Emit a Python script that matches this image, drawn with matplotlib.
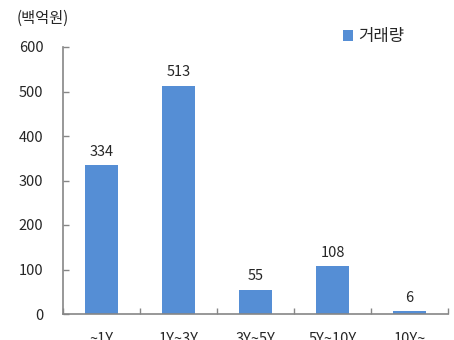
import matplotlib
matplotlib.use("Agg")
import matplotlib.pyplot as plt

plt.rcParams['font.family'] = ['Noto Sans CJK KR', 'DejaVu Sans']

categories = ["~1Y", "1Y~3Y", "3Y~5Y", "5Y~10Y", "10Y~"]
volumes = [334, 513, 55, 108, 6]
yticks = [0, 100, 200, 300, 400, 500, 600]
series_name = "거래량"
unit_label = "(백억원)"

bar_color = "#558ED5"
axis_color = "#868686"
text_color = "#262626"

fig = plt.figure(figsize=(4.54, 3.40), dpi=100)
ax = fig.add_axes([63 / 454, 26 / 340, 385 / 454, 267 / 340])

x = list(range(len(categories)))
ax.bar(x, volumes, width=0.43, color=bar_color, label=series_name, zorder=2)

for xi, v in zip(x, volumes):
    ax.text(xi, v + 14, str(v), ha="center", va="bottom", fontsize=10.5, color=text_color)

ax.set_xlim(-0.5, len(categories) - 0.5)
ax.set_ylim(0, 600)
ax.set_yticks(yticks)
ax.set_yticklabels([str(t) for t in yticks], fontsize=10.5, color=text_color)

ax.set_xticks(x)
ax.set_xticklabels(categories, fontsize=10.5, color=text_color)
ax.tick_params(axis="x", length=0, pad=13)
# category boundary tick marks along the x axis
ax.set_xticks([i - 0.5 for i in range(len(categories) + 1)], minor=True)
ax.tick_params(axis="x", which="minor", direction="in", length=4, color=axis_color, width=1)
ax.tick_params(axis="y", direction="in", length=4, color=axis_color, width=1, pad=14)

for side in ["top", "right"]:
    ax.spines[side].set_visible(False)
for side in ["left", "bottom"]:
    ax.spines[side].set_color(axis_color)
    ax.spines[side].set_linewidth(1.2)

fig.text(17 / 454, 1 - 18 / 340, unit_label, fontsize=11, color=text_color, va="center", ha="left")

leg = fig.legend(loc="center left", bbox_to_anchor=(343 / 454, 1 - 37 / 340), frameon=False, fontsize=12,
                 handlelength=0.6, handleheight=0.6, handletextpad=0.3, borderaxespad=0, borderpad=0)
for t in leg.get_texts():
    t.set_color(text_color)

fig.savefig("out.png", dpi=100)
